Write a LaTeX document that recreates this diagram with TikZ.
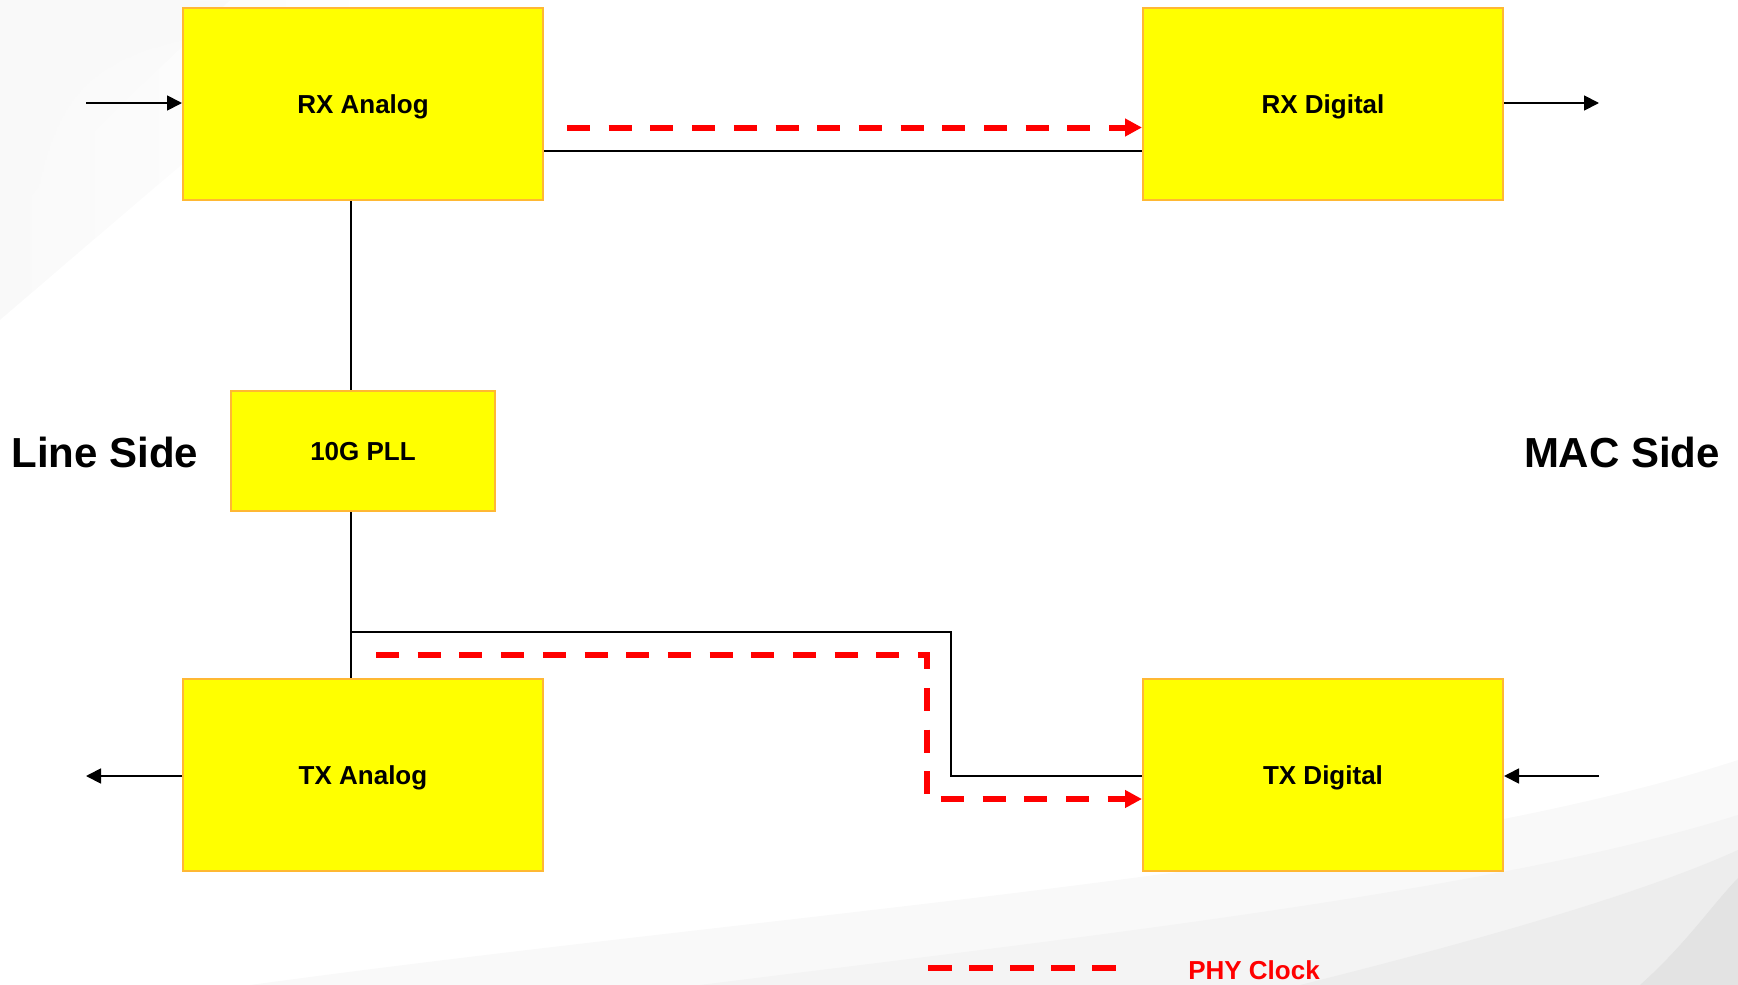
\documentclass[tikz,border=0pt]{standalone}
\usepackage{fontspec}
\setmainfont{Liberation Sans}
\usetikzlibrary{arrows.meta,calc,fadings}
\definecolor{boxedge}{HTML}{FFB833}
\definecolor{boxfill}{HTML}{FFFF00}
\definecolor{clk}{HTML}{FF0000}
\begin{document}
\begin{tikzpicture}[x=1pt,y=-1pt,
  blk/.style={draw=boxedge, line width=2pt, fill=boxfill, inner sep=0pt,
    minimum width=360pt, minimum height=192pt, text height=19pt, text depth=0pt,
    font=\fontsize{26}{30}\selectfont\bfseries},
  pllblk/.style={blk, minimum width=264pt, minimum height=120pt},
  sidelbl/.style={font=\fontsize{42}{48}\selectfont\bfseries, inner sep=0pt},
  sig/.style={line width=1.8pt, draw=black},
  sigarrow/.style={sig, -{Triangle[length=15pt,width=15pt]}},
  clkline/.style={draw=clk, line width=6pt, dash pattern=on 23pt off 18.7pt},
  clkarrow/.style={clkline, -{Triangle[length=17pt,width=17pt]}}
]
\useasboundingbox (0,0) rectangle (1738,985);
% background swooshes
\fill[gray!5, path fading=east] (0,0) -- (380,0) .. controls (280,80) and (140,200) .. (0,320) -- cycle;
\fill[gray!4, path fading=south] (0,0) -- (230,0) .. controls (170,60) and (80,140) .. (0,230) -- cycle;
\fill[gray!5] (250,985) .. controls (800,910) and (1400,870) .. (1738,760) -- (1738,985) -- cycle;
\fill[gray!9] (700,985) .. controls (1100,935) and (1500,890) .. (1738,815) -- (1738,985) -- cycle;
\fill[gray!14] (1300,985) .. controls (1500,935) and (1650,890) .. (1738,850) -- (1738,985) -- cycle;
\fill[gray!22] (1640,985) .. controls (1685,945) and (1712,905) .. (1738,878) -- (1738,985) -- cycle;

% blocks
\node[blk] (rxa) at (363,104) {RX Analog};
\node[blk] (rxd) at (1323,104) {RX Digital};
\node[pllblk] (pll) at (363,451) {10G PLL};
\node[blk] (txa) at (363,775) {TX Analog};
\node[blk] (txd) at (1323,775) {TX Digital};

\node[sidelbl] (line) at (105,452) {Line Side};
\node[sidelbl] (mac) at (1622,452) {MAC Side};

% external arrows
\coordinate (inL) at (86,103);
\coordinate (outR) at (1599,103);
\coordinate (outL) at (86,776);
\coordinate (inR) at (1599,776);
\draw[sigarrow] (inL) -- (inL -| rxa.west);
\draw[sigarrow] (outR -| rxd.east) -- (outR);
\draw[sigarrow] (outL -| txa.west) -- (outL);
\draw[sigarrow] (inR) -- (inR -| txd.east);

% data path
\coordinate (rxy) at (0,151);
\draw[sig] (rxy -| rxa.east) -- (rxy -| rxd.west);
\coordinate (vx) at (351,0);
\draw[sig] (vx |- rxa.south) -- (vx |- pll.north);
\coordinate (bus) at (351,632);
\coordinate (jog) at (951,632);
\coordinate (txy) at (951,776);
\draw[sig] (vx |- pll.south) -- (vx |- txa.north);
\draw[sig] (bus) -- (jog) -- (txy) -- (txy -| txd.west);

% PHY clock paths
\coordinate (ck1) at (567,127.5);
\draw[clkarrow] (ck1) -- (ck1 -| rxd.west);
\coordinate (ck2) at (376,655);
\coordinate (ck3) at (927,655);
\coordinate (ck4) at (927,799);
\draw[clkarrow] (ck2) -- (ck3) -- (ck4) -- (ck4 -| txd.west);

% legend
\coordinate (lg1) at (928,968);
\coordinate (lg2) at (1120,968);
\draw[clkline, dash pattern=on 24pt off 17pt] (lg1) -- (lg2);
\node[font=\fontsize{26}{30}\selectfont\bfseries, text=clk, inner sep=0pt] (lgt) at (1254,970) {PHY Clock};
\end{tikzpicture}
\end{document}
